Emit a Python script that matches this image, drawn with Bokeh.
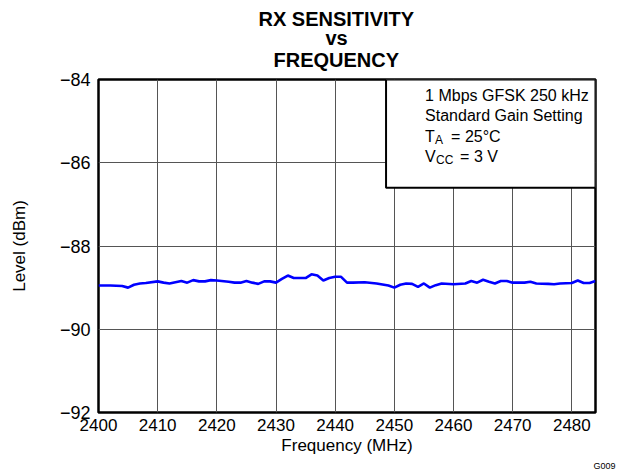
from bokeh.plotting import figure
from bokeh.models import Range1d, FixedTicker, Label, Title, BoxAnnotation
from bokeh.embed import file_html
from bokeh.resources import INLINE

# ---------------- data ----------------
FREQ_MHZ = [2400, 2402, 2404, 2405, 2406, 2407, 2408, 2410, 2411, 2412, 2413, 2414,
            2415, 2416, 2417, 2418, 2419, 2420, 2422, 2423, 2424, 2425, 2426, 2427,
            2428, 2429, 2430, 2431, 2432, 2433, 2434, 2435, 2436, 2437, 2438, 2439,
            2440, 2441, 2442, 2443, 2445, 2447, 2449, 2450, 2451, 2452, 2453, 2454,
            2455, 2456, 2457, 2458, 2460, 2462, 2463, 2464, 2465, 2466, 2467, 2468,
            2469, 2470, 2472, 2473, 2474, 2476, 2477, 2478, 2480, 2481, 2482, 2483,
            2484]
LEVEL_DBM = [-88.95, -88.95, -88.96, -89.00, -88.93, -88.90, -88.89, -88.85, -88.88, -88.90,
             -88.87, -88.84, -88.88, -88.82, -88.85, -88.85, -88.82, -88.83, -88.86, -88.88,
             -88.88, -88.84, -88.88, -88.91, -88.85, -88.85, -88.88, -88.79, -88.71, -88.77,
             -88.77, -88.77, -88.68, -88.71, -88.83, -88.77, -88.74, -88.74, -88.88, -88.88,
             -88.87, -88.90, -88.95, -89.00, -88.93, -88.90, -88.91, -88.98, -88.90, -89.00,
             -88.94, -88.90, -88.92, -88.90, -88.84, -88.88, -88.81, -88.86, -88.90, -88.84,
             -88.84, -88.88, -88.88, -88.86, -88.90, -88.91, -88.92, -88.90, -88.89, -88.83,
             -88.89, -88.89, -88.84]

X_TICKS = [2400, 2410, 2420, 2430, 2440, 2450, 2460, 2470, 2480]
Y_TICKS = [-92, -90, -88, -86, -84]
Y_TICK_LABELS = ["\u221292", "\u221290", "\u221288", "\u221286", "\u221284"]
X_RANGE = (2400, 2484)
Y_RANGE = (-92, -84)

TITLE_LINES = ["RX SENSITIVITY", "vs", "FREQUENCY"]
X_LABEL = "Frequency (MHz)"
Y_LABEL = "Level (dBm)"
NOTE_LINE1 = "1 Mbps GFSK 250 kHz"
NOTE_LINE2 = "Standard Gain Setting"
NOTE_T = ("T", "A", "= 25\u00b0C")
NOTE_V = ("V", "CC", "= 3 V")
CODE = "G009"

FONT = "Liberation Sans"

# ---------------- figure ----------------
p = figure(width=619, height=471, output_backend="svg", toolbar_location=None,
           x_range=Range1d(*X_RANGE), y_range=Range1d(*Y_RANGE),
           min_border_left=98, min_border_right=24, min_border_top=77, min_border_bottom=58,
           title=TITLE_LINES[0])
p.background_fill_color = "white"
p.border_fill_color = "white"
p.outline_line_color = "black"
p.outline_line_width = 2.5

# title lines: figure title is outermost; first added Title sits closest to the frame
TITLE_STYLE = dict(text_font=FONT, text_font_size="20px", text_font_style="bold",
                   text_color="black", align="left")
p.title.text_font = FONT
p.title.text_font_size = "20px"
p.title.text_font_style = "bold"
p.title.text_color = "black"
p.title.align = "left"
p.title.offset = 160
p.title.standoff = 11
p.add_layout(Title(text=TITLE_LINES[2], offset=175, standoff=18, **TITLE_STYLE), "above")
p.add_layout(Title(text=TITLE_LINES[1], offset=227, standoff=-22, **TITLE_STYLE), "above")

for ax in (p.xaxis[0], p.yaxis[0]):
    ax.axis_line_color = None
    ax.major_tick_line_color = None
    ax.minor_tick_line_color = None
    ax.major_tick_out = 0
    ax.major_tick_in = 0
    ax.minor_tick_out = 0
    ax.minor_tick_in = 0
    ax.major_label_text_font = FONT
    ax.major_label_text_color = "black"
    ax.axis_label_text_font = FONT
    ax.axis_label_text_font_size = "17px"
    ax.axis_label_text_font_style = "normal"
    ax.axis_label_text_color = "black"

p.xaxis.major_label_text_font_size = "17px"
p.yaxis.major_label_text_font_size = "18px"
p.xaxis.ticker = FixedTicker(ticks=X_TICKS)
p.yaxis.ticker = FixedTicker(ticks=Y_TICKS)
p.yaxis.major_label_overrides = {v: s for v, s in zip(Y_TICKS, Y_TICK_LABELS)}
p.xaxis.axis_label = X_LABEL
p.yaxis.axis_label = Y_LABEL
p.xaxis.major_label_standoff = 6
p.xaxis.axis_label_standoff = 2
p.yaxis.major_label_standoff = 8
p.yaxis.axis_label_standoff = 28

p.add_layout(Title(text=CODE, text_font=FONT, text_font_size="9px", text_font_style="normal",
                   text_color="black", align="right", offset=-20, standoff=2), "below")

p.xgrid.ticker = FixedTicker(ticks=X_TICKS)
p.ygrid.ticker = FixedTicker(ticks=Y_TICKS)
for g in (p.xgrid[0], p.ygrid[0]):
    g.grid_line_color = "#555555"
    g.grid_line_width = 1

p.line(FREQ_MHZ, LEVEL_DBM, line_color="#0000ff", line_width=2.6)

# annotation box (covers grid)
p.add_layout(BoxAnnotation(left=2448.6, right=X_RANGE[1], top=Y_RANGE[1], bottom=-86.6,
                           fill_color="white", fill_alpha=1.0,
                           line_color="black", line_alpha=1.0, line_width=2,
                           level="annotation"))

NOTE_X = 2455.2
def note(text, dy, dx=0, size="16px"):
    p.add_layout(Label(x=NOTE_X, y=Y_RANGE[1], x_offset=dx, y_offset=dy, text=text,
                       text_font=FONT, text_font_size=size, text_color="black",
                       text_baseline="alphabetic", text_align="left"))

note(NOTE_LINE1, -15.5)
note(NOTE_LINE2, -36)
note(NOTE_T[0], -56.5)
note(NOTE_T[1], -60.5, dx=10, size="12px")
note(NOTE_T[2], -56.5, dx=26)
note(NOTE_V[0], -76.5)
note(NOTE_V[1], -80.5, dx=11, size="12px")
note(NOTE_V[2], -76.5, dx=35)

open("out.html", "w").write(file_html(p, INLINE))
